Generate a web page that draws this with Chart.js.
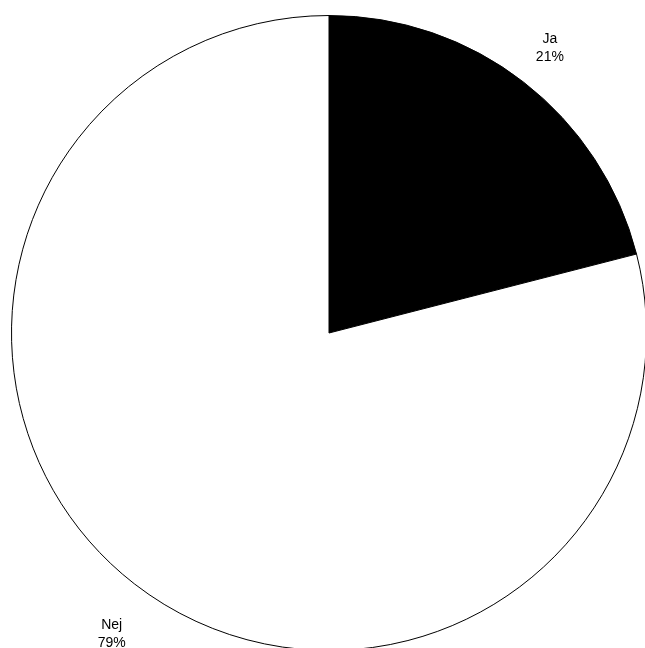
<!DOCTYPE html>
<html>
<head>
<meta charset="utf-8">
<script src="https://cdn.jsdelivr.net/npm/chart.js@4"></script>
<style>
  html, body { margin: 0; padding: 0; overflow: hidden; background: #fff; }
  canvas { display: block; }
</style>
</head>
<body>
<canvas id="pieChart" width="660" height="660"></canvas>
<script>
var categories = ['Ja', 'Nej'];
var shares = [21, 79];
var sliceColors = ['#000000', '#ffffff'];
var labelDistance = [1.135, 1.17];
var labelAngleShift = [0, -2];

var outsideLabels = {
    id: 'outsideLabels',
    afterDatasetsDraw: function (chart) {
        var ctx = chart.ctx;
        var arcs = chart.getDatasetMeta(0).data;
        ctx.save();
        ctx.fillStyle = '#000';
        ctx.font = '14px "Liberation Sans", Arial, sans-serif';
        ctx.textAlign = 'center';
        ctx.textBaseline = 'middle';
        arcs.forEach(function (arc, i) {
            var mid = (arc.startAngle + arc.endAngle) / 2 + labelAngleShift[i] * Math.PI / 180;
            var r = arc.outerRadius * labelDistance[i];
            var x = arc.x + Math.cos(mid) * r;
            var y = arc.y + Math.sin(mid) * r;
            ctx.fillText(categories[i], x, y - 9);
            ctx.fillText(shares[i] + '%', x, y + 9);
        });
        ctx.restore();
    }
};

var pieCtx = document.getElementById('pieChart').getContext('2d');
var pieChart = new Chart(pieCtx, {
    type: 'pie',
    data: {
        labels: categories,
        datasets: [{
            data: shares,
            backgroundColor: sliceColors,
            borderColor: '#000',
            borderWidth: 1
        }]
    },
    options: {
        responsive: false,
        animation: false,
        devicePixelRatio: 1,
        layout: { padding: { left: 11, top: 15, right: 13, bottom: 9 } },
        plugins: {
            legend: { display: false },
            tooltip: { enabled: false }
        }
    },
    plugins: [outsideLabels]
});
</script>
</body>
</html>
